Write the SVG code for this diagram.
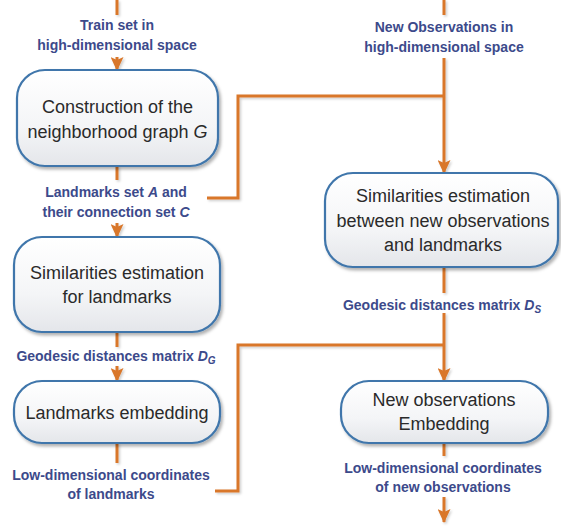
<svg xmlns="http://www.w3.org/2000/svg" width="561" height="529" viewBox="0 0 561 529">
<style>
.box{fill:url(#bg);stroke:#3f76ab;stroke-width:2.2;filter:url(#sh)}
.bt{font-family:"Liberation Sans",Arial,sans-serif;font-size:18px;fill:#2a2a2a;text-anchor:middle}
.lb{font-family:"Liberation Sans",Arial,sans-serif;font-size:14px;font-weight:bold;fill:#3c4a8b;text-anchor:middle}
.c{fill:none;stroke:#d9772b;stroke-width:3}
.a{marker-end:url(#ah)}
.i{font-style:italic}
</style>
<defs>
<linearGradient id="bg" x1="0" y1="0" x2="0" y2="1">
<stop offset="0" stop-color="#ffffff"/>
<stop offset="0.6" stop-color="#f4f5f7"/>
<stop offset="1" stop-color="#e4e6ea"/>
</linearGradient>
<filter id="sh" x="-10%" y="-10%" width="125%" height="130%">
<feDropShadow dx="2" dy="2.5" stdDeviation="1.8" flood-color="#000" flood-opacity="0.3"/>
</filter>
<filter id="ls" x="-50%" y="-10%" width="200%" height="120%">
<feDropShadow dx="1.5" dy="1.5" stdDeviation="0.8" flood-color="#000" flood-opacity="0.2"/>
</filter>
<marker id="ah" markerUnits="userSpaceOnUse" viewBox="0 0 14 13" refX="13" refY="6.5" markerWidth="14" markerHeight="13" orient="auto">
<path d="M0,0 L3,6.5 L0,13 L14,6.5 z" fill="#d9772b"/>
</marker>
</defs>
<g id="connectors" filter="url(#ls)">
<path class="c" d="M117,0 V15"/>
<path class="c a" d="M117,57 V70"/>
<path class="c" d="M117,166 V180"/>
<path class="c a" d="M117,223 V237"/>
<path class="c" d="M117,332 V347"/>
<path class="c a" d="M117,366 V381"/>
<path class="c" d="M117,443 V463"/>
<path class="c" d="M207,198 H238 V96 H444"/>
<path class="c" d="M444,0 V15"/>
<path class="c a" d="M444,58 V173"/>
<path class="c" d="M444,267 V293"/>
<path class="c a" d="M444,313 V381"/>
<path class="c" d="M215,491 H238 V345 H444"/>
<path class="c" d="M444,443 V456"/>
<path class="c a" d="M444,497 V522"/>
</g>
<g id="lbl-train">
<text class="lb" x="117" y="30">Train set in</text>
<text class="lb" x="117" y="50">high-dimensional space</text>
</g>
<g id="node-construction">
<rect class="box" x="17" y="70" width="201" height="96" rx="28"/>
<text class="bt" x="117.5" y="113">Construction of the</text>
<text class="bt" x="117.5" y="138">neighborhood graph <tspan class="i">G</tspan></text>
</g>
<g id="lbl-landmarks">
<text class="lb" x="116" y="197">Landmarks set <tspan class="i">A</tspan> and</text>
<text class="lb" x="116" y="217">their connection set <tspan class="i">C</tspan></text>
</g>
<g id="node-sim-landmarks">
<rect class="box" x="14" y="237" width="206" height="95" rx="28"/>
<text class="bt" x="117" y="279">Similarities estimation</text>
<text class="bt" x="117" y="303">for landmarks</text>
</g>
<g id="lbl-dg">
<text class="lb" x="116" y="361">Geodesic distances matrix <tspan class="i">D</tspan><tspan class="i" font-size="10" dy="3">G</tspan></text>
</g>
<g id="node-landmarks-embedding">
<rect class="box" x="14" y="381" width="206" height="62" rx="28"/>
<text class="bt" x="117" y="419">Landmarks embedding</text>
</g>
<g id="lbl-low-landmarks">
<text class="lb" x="111" y="480">Low-dimensional coordinates</text>
<text class="lb" x="111" y="499">of landmarks</text>
</g>
<g id="lbl-newobs">
<text class="lb" x="444" y="32">New Observations in</text>
<text class="lb" x="444" y="52">high-dimensional space</text>
</g>
<g id="node-sim-new">
<rect class="box" x="325" y="173" width="233" height="94" rx="28"/>
<text class="bt" x="443" y="202">Similarities estimation</text>
<text class="bt" x="443" y="227">between new observations</text>
<text class="bt" x="443" y="251">and landmarks</text>
</g>
<g id="lbl-ds">
<text class="lb" x="442" y="310">Geodesic distances matrix <tspan class="i">D</tspan><tspan class="i" font-size="10" dy="3">S</tspan></text>
</g>
<g id="node-new-embedding">
<rect class="box" x="341" y="381" width="207" height="62" rx="28"/>
<text class="bt" x="444" y="406">New observations</text>
<text class="bt" x="444" y="430">Embedding</text>
</g>
<g id="lbl-low-new">
<text class="lb" x="443" y="473">Low-dimensional coordinates</text>
<text class="lb" x="443" y="492">of new observations</text>
</g>
</svg>
